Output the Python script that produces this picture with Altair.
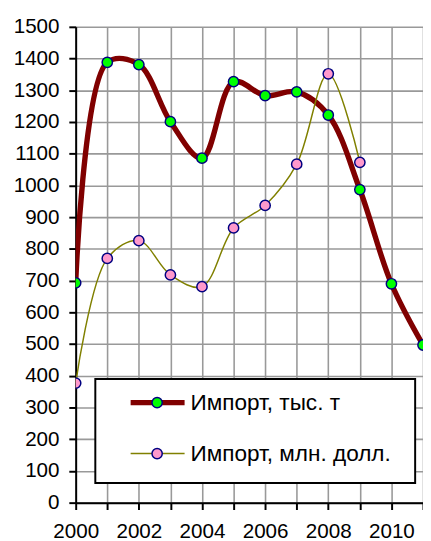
import altair as alt
import pandas as pd

years_t = list(range(2000, 2012))
tons = [693, 1388, 1381, 1201, 1086, 1327, 1283, 1295, 1222, 987, 690, 497]
years_u = list(range(2000, 2010))
usd = [377, 770, 826, 718, 681, 866, 937, 1067, 1352, 1073]
label_t = "Импорт, тыс. т"
label_u = "Импорт, млн. долл."
x_ticks = list(range(2000, 2012))
y_ticks = list(range(0, 1600, 100))

df_t = pd.DataFrame({"year": years_t, "value": tons})
df_u = pd.DataFrame({"year": years_u, "value": usd})

FONT = "Liberation Sans"
NAVY = "#000080"

x = alt.X("year:Q",
          scale=alt.Scale(domain=[2000, 2011], nice=False, zero=False),
          axis=alt.Axis(values=x_ticks, format="d", title=None,
                        labelExpr="datum.value % 2 == 0 ? datum.label : ''",
                        labelOverlap=False, labelFlush=False, labelPadding=12))
y = alt.Y("value:Q",
          scale=alt.Scale(domain=[0, 1500], nice=False),
          axis=alt.Axis(values=y_ticks, format="d", title=None, labelOverlap=False,
                        labelFlush=False, labelPadding=10))

line_t = alt.Chart(df_t).mark_line(color="#800000", strokeWidth=5.5,
                                   interpolate="catmull-rom", clip=True).encode(x=x, y=y)
pts_t = alt.Chart(df_t).mark_point(filled=True, fill="#00ff00", stroke=NAVY,
                                   strokeWidth=1.5, size=110, opacity=1,
                                   clip=True).encode(x=x, y=y)
line_u = alt.Chart(df_u).mark_line(color="#808000", strokeWidth=1.5,
                                   interpolate="catmull-rom", clip=True).encode(x=x, y=y)
pts_u = alt.Chart(df_u).mark_point(filled=True, fill="#ff99cc", stroke=NAVY,
                                   strokeWidth=1.5, size=110, opacity=1,
                                   clip=True).encode(x=x, y=y)

leg = pd.DataFrame({"a": [0]})
box = alt.Chart(leg).mark_rect(fill="white", stroke="black", strokeWidth=2).encode(
    x=alt.value(20), x2=alt.value(346), y=alt.value(359), y2=alt.value(465))
l1 = alt.Chart(leg).mark_rule(color="#800000", strokeWidth=5.5).encode(
    x=alt.value(56), x2=alt.value(111), y=alt.value(383))
p1 = alt.Chart(leg).mark_point(filled=True, fill="#00ff00", stroke=NAVY,
                               strokeWidth=1.5, size=110, opacity=1).encode(
    x=alt.value(83), y=alt.value(383))
t1 = alt.Chart(leg).mark_text(align="left", baseline="middle", font=FONT,
                              fontSize=23, color="black", text=label_t).encode(
    x=alt.value(117), y=alt.value(384))
l2 = alt.Chart(leg).mark_rule(color="#808000", strokeWidth=1.5).encode(
    x=alt.value(56), x2=alt.value(111), y=alt.value(435))
p2 = alt.Chart(leg).mark_point(filled=True, fill="#ff99cc", stroke=NAVY,
                               strokeWidth=1.5, size=110, opacity=1).encode(
    x=alt.value(83), y=alt.value(435))
t2 = alt.Chart(leg).mark_text(align="left", baseline="middle", font=FONT,
                              fontSize=23, color="black", text=label_u).encode(
    x=alt.value(117), y=alt.value(436))

chart = alt.layer(line_t, line_u, pts_t, pts_u, box, l1, p1, t1, l2, p2, t2).properties(
    width=354, height=485,
    padding={"left": 69, "top": 14, "right": 0, "bottom": 40},
    autosize=alt.AutoSizeParams(type="none"),
    background="white",
).configure_view(stroke=None).configure_axis(
    labelFont=FONT, labelFontSize=21, labelColor="black",
    domainColor="black", domainWidth=2, tickColor="black", tickWidth=2, tickSize=7,
    gridColor="#999999", gridWidth=1.6, grid=True,
)

chart.save("out.html", embed_options={"renderer": "svg", "actions": False})
